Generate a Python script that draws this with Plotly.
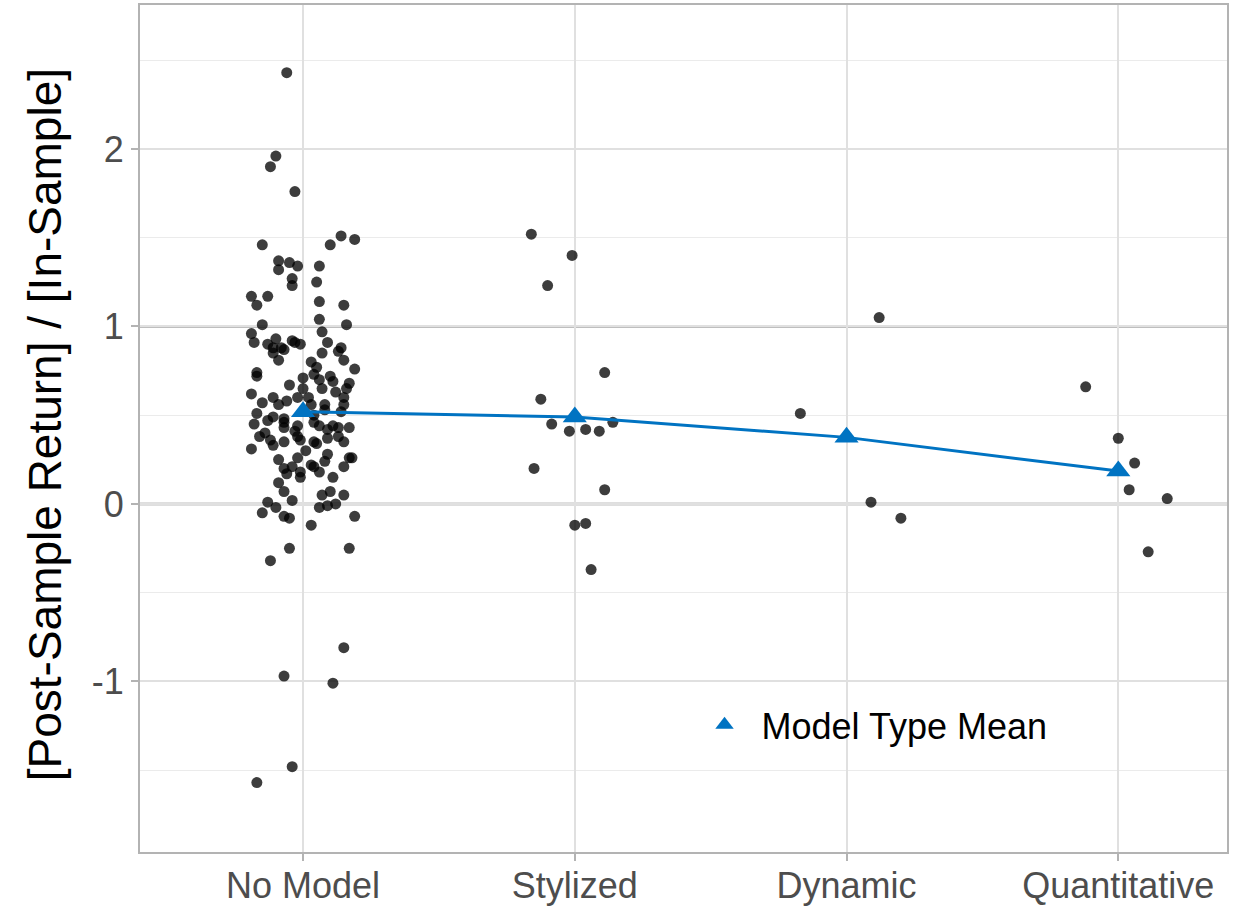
import plotly.graph_objects as go

categories = ["No Model", "Stylized", "Dynamic", "Quantitative"]

no_model_y = [
    2.43, 1.96, 1.90, 1.76, 1.46, 1.46, 1.51, 1.49, 1.37, 1.36, 1.34, 1.34, 1.32, 1.27, 1.23, 1.25,
    1.17, 1.17, 1.14, 1.12, 1.12, 1.01, 1.04, 1.01, 0.96, 0.97, 0.91, 0.93, 0.92, 0.91, 0.90, 0.90,
    0.88, 0.87, 0.91, 0.88, 0.86, 0.85, 0.81, 0.85, 0.81, 0.80, 0.77, 0.74, 0.72, 0.76, 0.71, 0.70,
    0.72, 0.69, 0.68, 0.67, 0.65, 0.65, 0.65, 0.63, 0.62, 0.60, 0.57, 0.60, 0.60, 0.56, 0.60, 0.56,
    0.56, 0.56, 0.51, 0.52, 0.49, 0.48, 0.50,
    0.45, 0.47, 0.46, 0.43, 0.44, 0.46, 0.44, 0.42, 0.43, 0.43, 0.38, 0.36, 0.35, 0.38, 0.36, 0.35,
    0.37, 0.38, 0.35, 0.31, 0.33, 0.25, 0.26, 0.28, 0.24, 0.26, 0.26, 0.20, 0.21, 0.22, 0.21, 0.18,
    0.21, 0.17, 0.18, 0.15, 0.12, 0.15, 0.07, 0.07, 0.05, 0.05, 0.02, 0.01, -0.02, -0.02, -0.01, 0.00,
    -0.05, -0.07, -0.08, -0.07, -0.12, -0.25, -0.32, -0.25, -0.81, -0.97, -1.01, -1.48, -1.57,
    0.40, 0.44, 0.58, 0.30, 0.53, 0.34, 0.88, 0.73, 0.41,
]
no_model_jitter = [
    -0.06, -0.10, -0.12, -0.03, -0.15, 0.10, 0.14, 0.19, -0.09, -0.05, -0.02, 0.06, -0.09, -0.04, -0.04, 0.05,
    -0.19, -0.13, 0.06, -0.17, 0.15, -0.15, 0.06, 0.16, -0.19, 0.07, -0.18, -0.10, -0.04, -0.03, -0.01, -0.13,
    -0.11, -0.07, 0.09, 0.14, 0.13, -0.11, -0.09, 0.07, 0.15, 0.03, 0.05, -0.17, -0.17, 0.19, 0.00, 0.06,
    0.10, 0.11, 0.17, -0.05, 0.07, 0.00, 0.16, 0.12, -0.19, -0.11, -0.15, -0.02, 0.02, -0.09, 0.15, 0.15,
    0.08, 0.03, -0.17, 0.14, -0.11, -0.07, 0.04,
    -0.18, -0.13, -0.07, -0.07, -0.02, 0.04, 0.06, 0.09, 0.13, 0.17, -0.16, -0.12, -0.07, -0.02, -0.01, 0.04,
    0.09, 0.13, 0.15, -0.19, -0.11, -0.09, -0.02, 0.09, 0.08, 0.17, 0.18, -0.07, -0.04, 0.03, 0.04, 0.06,
    0.15, -0.06, -0.01, -0.01, -0.09, 0.11, -0.07, 0.10, 0.07, 0.15, -0.04, -0.13, -0.10, 0.06, 0.09, 0.12,
    -0.15, -0.07, -0.05, 0.19, 0.03, -0.05, -0.12, 0.17, 0.15, -0.07, 0.11, -0.04, -0.17,
    -0.14, 0.11, -0.06, 0.01, 0.08, 0.05, -0.08, 0.04, -0.03,
]

stylized_y = [1.52, 1.40, 1.23, 0.74, 0.59, 0.45, 0.41, 0.42, 0.41, 0.46, 0.20, 0.08, -0.12, -0.11, -0.37]
stylized_jitter = [-0.16, -0.01, -0.10, 0.11, -0.125, -0.085, -0.02, 0.04, 0.09, 0.14, -0.15, 0.11, 0.00, 0.04, 0.06]

dynamic_y = [1.05, 0.51, 0.01, -0.08]
dynamic_jitter = [0.12, -0.17, 0.09, 0.20]

quantitative_y = [0.66, 0.37, 0.23, 0.08, -0.27, 0.03]
quantitative_jitter = [-0.12, 0.00, 0.06, 0.04, 0.11, 0.18]

model_means = [0.52, 0.49, 0.375, 0.185]

y_tick_vals = [-1, 0, 1, 2]
y_tick_labels = ["-1", "0", "1", "2"]
y_minor_vals = [-1.5, -0.5, 0.5, 1.5, 2.5]
reference_lines = [0, 1]

groups = [
    (no_model_y, no_model_jitter),
    (stylized_y, stylized_jitter),
    (dynamic_y, dynamic_jitter),
    (quantitative_y, quantitative_jitter),
]

FONT = "Liberation Sans, Arial, Helvetica, sans-serif"
BLUE = "#0073C2"

fig = go.Figure()

xs, ys = [], []
for i, (yv, jv) in enumerate(groups):
    for y, j in zip(yv, jv):
        xs.append(i + j)
        ys.append(y)

fig.add_trace(go.Scatter(
    x=xs, y=ys, mode="markers", showlegend=False,
    marker=dict(size=11, color="black", opacity=0.76, line=dict(width=0)),
))

cat_idx = list(range(len(categories)))
fig.add_trace(go.Scatter(
    x=cat_idx, y=model_means, mode="lines", showlegend=False,
    line=dict(color=BLUE, width=3),
))
fig.add_trace(go.Scatter(
    x=cat_idx, y=model_means, mode="markers", name="Model Type Mean",
    marker=dict(symbol="triangle-up", size=21, color=BLUE, line=dict(width=0)),
))

for v in reference_lines:
    fig.add_shape(type="line", xref="paper", x0=0, x1=1, y0=v, y1=v,
                  line=dict(color="#bebebe", width=3), layer="below")

fig.update_layout(
    width=1238, height=907,
    margin=dict(l=140, r=11, t=5, b=55),
    paper_bgcolor="white", plot_bgcolor="white",
    font=dict(family=FONT, color="#4d4d4d"),
    showlegend=True,
    legend=dict(
        x=0.5037, y=0.15, xanchor="left", yanchor="middle",
        bgcolor="rgba(0,0,0,0)", borderwidth=0,
        font=dict(size=36, color="black", family=FONT),
        itemwidth=64,
    ),
    annotations=[dict(
        text="[Post-Sample Return] / [In-Sample]",
        xref="paper", yref="paper", x=-0.0874, y=0.505,
        xanchor="center", yanchor="middle", textangle=-90, showarrow=False,
        font=dict(size=46, color="black", family=FONT),
    )],
)

fig.update_xaxes(
    range=[-0.6, 3.4], tickvals=cat_idx, ticktext=categories, automargin=False,
    showgrid=True, gridcolor="#e0e0e0", gridwidth=2, zeroline=False,
    showline=True, linecolor="#b3b3b3", linewidth=2, mirror=True,
    ticks="outside", ticklen=7, tickwidth=2, tickcolor="#b3b3b3",
    ticklabelstandoff=-6,
    tickfont=dict(size=36, color="#4d4d4d", family=FONT),
)
fig.update_yaxes(
    range=[-1.961, 2.811], tickvals=y_tick_vals, ticktext=y_tick_labels, automargin=False,
    showgrid=True, gridcolor="#e0e0e0", gridwidth=2, zeroline=False,
    showline=True, linecolor="#b3b3b3", linewidth=2, mirror=True,
    ticks="outside", ticklen=7, tickwidth=2, tickcolor="#b3b3b3",
    tickfont=dict(size=36, color="#4d4d4d", family=FONT),
    minor=dict(tickvals=y_minor_vals, showgrid=True, gridcolor="#ebebeb", gridwidth=1.3, ticks=""),
)

fig.write_html("out.html", config={"displayModeBar": False},
               post_script="document.body.style.margin='0px';")
